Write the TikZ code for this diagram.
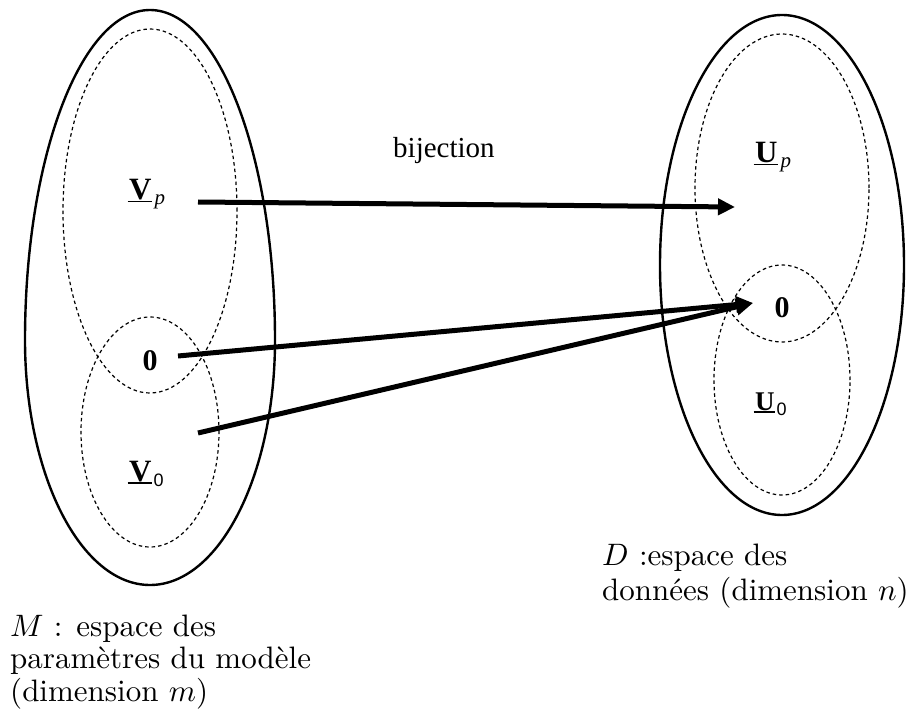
\documentclass[tikz,border=0pt]{standalone}
\usepackage{fontspec}
\usepackage{graphicx}
\newfontfamily\tms{Liberation Serif}
\newfontfamily\ars{Liberation Sans}
\usetikzlibrary{arrows.meta}
\newsavebox\ulbox
\newcommand\ulb[1]{\sbox\ulbox{\bfseries #1}\rlap{\kern-1.5pt\rule[-2.5pt]{\dimexpr\wd\ulbox+2pt\relax}{1.8pt}}\usebox\ulbox}
\newcommand\subi[1]{\kern3pt\raisebox{-5pt}{\fontsize{21}{21}\selectfont\itshape #1}}
\newcommand\subz[1]{\kern2pt\raisebox{-5pt}{\ars\fontsize{18}{18}\selectfont #1}}
\tikzset{
  solidell/.style={line width=2.4pt},
  dotell/.style={line width=1.2pt, dash pattern=on 3.5pt off 3pt},
  arr/.style={line width=5pt, -{Triangle[length=17pt,width=16pt]}},
  lab/.style={inner sep=0pt, anchor=base west, font=\tms\fontsize{31}{31}\selectfont},
  zer/.style={inner sep=0pt, anchor=base, font=\tms\bfseries\fontsize{30}{30}\selectfont},
  caption/.style={inner sep=0pt, anchor=base west}
}
\begin{document}
\begin{tikzpicture}[x=1pt,y=-1pt]
\useasboundingbox[fill=white] (0,0) rectangle (910,711);
% left space M
\draw[solidell] (25,340) arc[start angle=180, end angle=0, x radius=125pt, y radius=330pt]
  arc[start angle=0, end angle=-180, x radius=125pt, y radius=245pt] -- cycle;
\draw[dotell] (150,211) ellipse [x radius=87pt, y radius=182pt];
\draw[dotell] (150,432) ellipse [x radius=69pt, y radius=115pt];
% right space D
\draw[solidell] (782,265) ellipse [x radius=122pt, y radius=250pt];
\draw[dotell] (782,188) ellipse [x radius=87pt, y radius=154pt];
\draw[dotell] (782,380) ellipse [x radius=68pt, y radius=115pt];
% labels
\node[lab] (Vp) at (129,200) {\ulb{V}\subi{p}};
\node[lab] (V0) at (129,481) {\ulb{V}\subz{0}};
\node[zer] (zl) at (150,370) {0};
\node[lab] (Up) at (755,163) {\ulb{U}\subi{p}};
\node[lab, font=\tms\fontsize{27}{27}\selectfont] (U0) at (755,410) {\ulb{U}\subz{0}};
\node[zer] (zr) at (782,317) {0};
\node[lab, font=\tms\fontsize{29}{29}\selectfont] (bij) at (393,158) {bijection};
\node[caption] (Mlab) at (10,636) {\scalebox{3.1}{\fontsize{10}{10.6}\selectfont\begin{tabular}[t]{@{}l@{}}$M$ : espace des\\ paramètres du modèle\\ (dimension $m$)\end{tabular}}};
\node[caption] (Dlab) at (602,565) {\scalebox{3.1}{\fontsize{10}{11.3}\selectfont\begin{tabular}[t]{@{}l@{}}$D$ :espace des\\ données (dimension $n$)\end{tabular}}};
% arrows
\coordinate (a1s) at (198,202);
\coordinate (a1e) at (735,207);
\coordinate (a2s) at (178,356);
\coordinate (a3s) at (198,433);
\coordinate (tip0) at (753,303);
\draw[arr] (a1s) -- (a1e);
\draw[arr] (a2s) -- (tip0);
\draw[arr] (a3s) -- (tip0);
\end{tikzpicture}
\end{document}
